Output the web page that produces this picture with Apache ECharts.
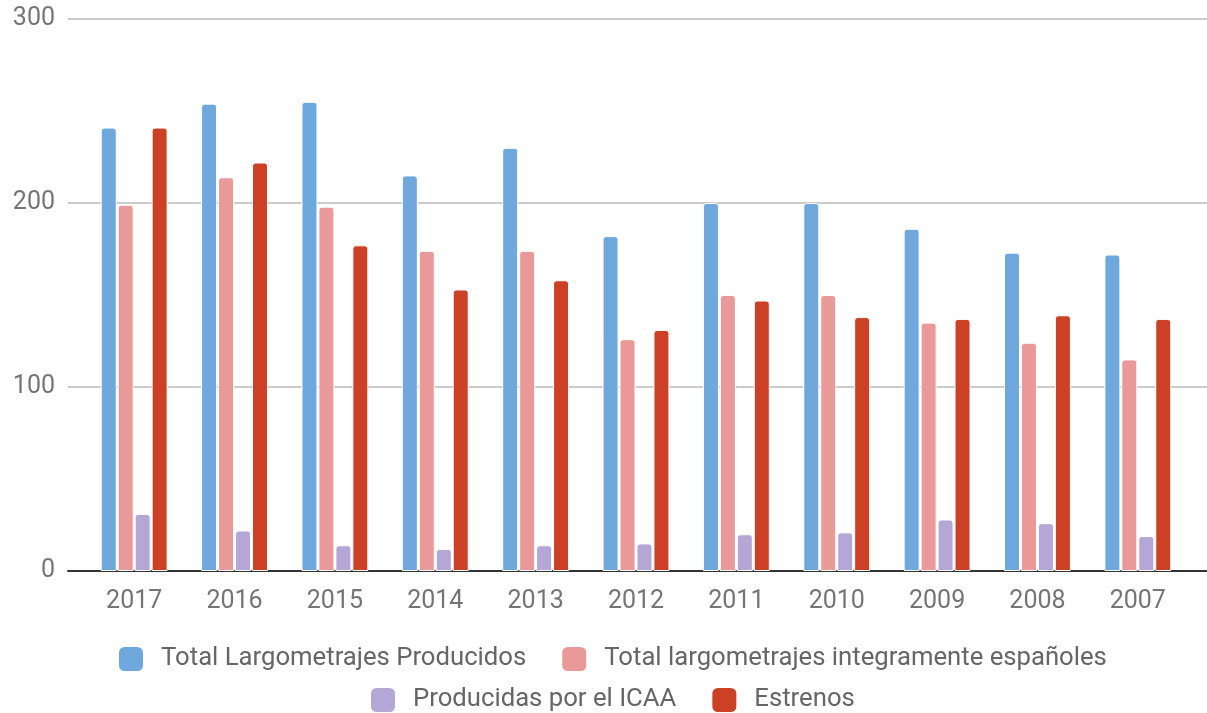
<!DOCTYPE html>
<html>
<head>
<meta charset="utf-8">
<script src="https://cdn.jsdelivr.net/npm/echarts@6/dist/echarts.min.js"></script>
<style>
  html, body { margin: 0; padding: 0; background: #fff; }
  #chart { width: 1207px; height: 713px; }
</style>
</head>
<body>
<div id="chart"></div>
<script>
const years = ['2017', '2016', '2015', '2014', '2013', '2012', '2011', '2010', '2009', '2008', '2007']
const totalProducidos = [241, 254, 255, 215, 230, 182, 200, 200, 186, 173, 172]
const totalEspanoles = [199, 214, 198, 174, 174, 126, 150, 150, 135, 124, 115]
const producidasIcaa = [31, 22, 14, 12, 14, 15, 20, 21, 28, 26, 19]
const estrenos = [241, 222, 177, 153, 158, 131, 147, 138, 137, 139, 137]
const yTicks = [0, 100, 200, 300]

const names = [
    'Total Largometrajes Producidos',
    'Total largometrajes integramente españoles',
    'Producidas por el ICAA',
    'Estrenos'
]
const colors = ['#6fa8dc', '#ea9999', '#b4a7d6', '#cc4125']
const values = [totalProducidos, totalEspanoles, producidasIcaa, estrenos]

const font = 'Roboto, sans-serif'
const myChart = echarts.init(document.getElementById('chart'))

let legendBase = {
    orient: 'horizontal',
    padding: 0,
    itemWidth: 26,
    itemHeight: 26,
    itemGap: 34,
    icon: 'roundRect',
    textStyle: { fontSize: 25.7, color: '#666', fontFamily: font, padding: [0, 0, 0, 12] },
}

myChart.setOption({
    animation: false,
    color: colors,
    grid: [
        // bars
        { left: 84, right: 19, top: 19, bottom: 142 },
        // background gridlines + baseline, spans the full width
        { left: 68, right: 0, top: 19, bottom: 142 },
    ],
    legend: [
        { ...legendBase, data: names.slice(0, 2), top: 645, left: 117 },
        { ...legendBase, data: names.slice(2), top: 686, left: 369 },
    ],
    xAxis: [
        {
            type: 'category',
            gridIndex: 0,
            data: years,
            axisLine: { show: false },
            axisTick: { show: false },
            axisLabel: { fontSize: 25, color: '#757575', fontFamily: font, margin: 18 },
        },
        {
            type: 'category',
            gridIndex: 1,
            data: [''],
            axisLine: { show: true, lineStyle: { color: '#333', width: 2 } },
            axisTick: { show: false },
            axisLabel: { show: false },
        },
    ],
    yAxis: [
        { type: 'value', gridIndex: 0, min: 0, max: 300, interval: 100, show: false },
        {
            type: 'value',
            gridIndex: 1,
            min: yTicks[0],
            max: yTicks[yTicks.length - 1],
            interval: 100,
            axisLine: { show: false },
            axisTick: { show: false },
            axisLabel: { fontSize: 25, color: '#757575', fontFamily: font, margin: 13 },
            splitLine: { lineStyle: { color: '#cccccc', width: 2 } },
        },
    ],
    series: names.map((name, i) => ({
        name: name,
        type: 'bar',
        xAxisIndex: 0,
        yAxisIndex: 0,
        data: values[i],
        barWidth: 16,
        barGap: '6%',
        itemStyle: {
            color: colors[i],
            borderColor: '#fff',
            borderWidth: 1,
            borderRadius: [3, 3, 0, 0],
        },
    })),
})
</script>
</body>
</html>
